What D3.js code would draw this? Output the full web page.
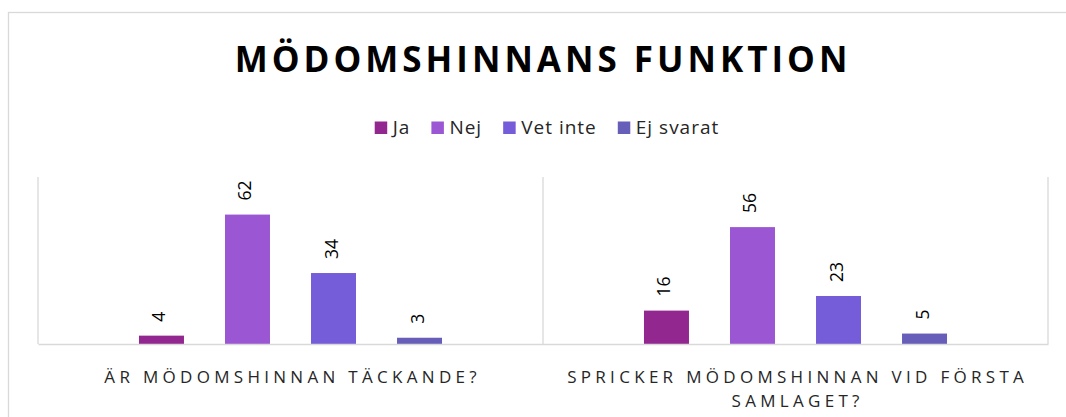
<!DOCTYPE html>
<html>
<head>
<meta charset="utf-8">
<script src="https://cdn.jsdelivr.net/npm/d3@7"></script>
<style>
  body { margin: 0; background: #fff; }
  svg { display: block; font-family: "Open Sans", "Noto Sans", sans-serif; }
</style>
</head>
<body>
<svg width="1066" height="417"></svg>
<script>
// data
var categories = ["ÄR MÖDOMSHINNAN TÄCKANDE?", "SPRICKER MÖDOMSHINNAN VID FÖRSTA SAMLAGET?"]
var seriesNames = ["Ja", "Nej", "Vet inte", "Ej svarat"]
var seriesColors = ["#92278F", "#9B57D3", "#755DD9", "#665EB8"]
var valuesJa = [4, 16]
var valuesNej = [62, 56]
var valuesVetInte = [34, 23]
var valuesEjSvarat = [3, 5]

var title = "MÖDOMSHINNANS FUNKTION"

var seriesValues = [valuesJa, valuesNej, valuesVetInte, valuesEjSvarat]
var rows = categories.map(function(c, i) {
  return {cat: c, vals: seriesNames.map(function(s, j) { return {name: s, value: seriesValues[j][i], idx: j} })}
})

var plot = {left: 38, right: 1048, top: 177, bottom: 344}
var svg = d3.select("svg")

// outer chart border
svg.append("rect")
  .attr("x", 8.5).attr("y", 12.5)
  .attr("width", 1070).attr("height", 430)
  .attr("fill", "none").attr("stroke", "#D9D9D9").attr("stroke-width", 1.3)

var titleSpacing = 4
svg.append("text")
  .attr("x", 541 + titleSpacing / 2).attr("y", 72)
  .attr("text-anchor", "middle")
  .attr("font-size", 35).attr("font-weight", "bold")
  .attr("letter-spacing", titleSpacing)
  .attr("fill", "#000")
  .text(title)

var x0 = d3.scaleBand()
  .domain(categories)
  .range([plot.left, plot.right])
  .padding(0)

var x1 = d3.scaleBand()
  .domain(seriesNames)
  .range([0, x0.bandwidth()])
  .paddingInner(0.477)
  .paddingOuter(1.174)

var y = d3.scaleLinear()
  .domain([0, 80])
  .range([plot.bottom, plot.top])

var color = d3.scaleOrdinal().domain(seriesNames).range(seriesColors)

// vertical category lines
var grid = svg.append("g")
grid.selectAll("line")
  .data(d3.range(categories.length + 1))
  .enter()
  .append("line")
  .attr("x1", function(i) { return i < categories.length ? x0(categories[i]) : x0.range()[1] })
  .attr("x2", function(i) { return i < categories.length ? x0(categories[i]) : x0.range()[1] })
  .attr("y1", plot.top).attr("y2", plot.bottom)
  .attr("stroke", "#D9D9D9").attr("stroke-width", 1.3)

var groups = svg.append("g")
  .selectAll("g")
  .data(rows)
  .enter()
  .append("g")
  .attr("transform", function(d) { return "translate(" + x0(d.cat) + ",0)" })

groups.selectAll("rect")
  .data(function(d) { return d.vals })
  .enter()
  .append("rect")
  .attr("x", function(d) { return x1(d.name) })
  .attr("y", function(d) { return y(d.value) })
  .attr("width", x1.bandwidth())
  .attr("height", function(d) { return y(0) - y(d.value) })
  .attr("fill", function(d) { return color(d.name) })

groups.selectAll("text")
  .data(function(d) { return d.vals })
  .enter()
  .append("text")
  .attr("transform", function(d) {
    return "translate(" + (x1(d.name) + x1.bandwidth() / 2 + 4) + "," + (y(d.value) - 14) + ") rotate(-90)"
  })
  .attr("font-size", 17.5)
  .attr("fill", "#000")
  .text(function(d) { return d.value })

// axis baseline
var xAxis = d3.axisBottom(x0).tickSize(0).tickFormat("")
svg.append("g")
  .attr("transform", "translate(0," + plot.bottom + ")")
  .call(xAxis)
  .call(function(g) { g.select(".domain").attr("stroke", "#D9D9D9").attr("stroke-width", 1.3) })

// category labels, wrapped
var catSpacing = 4.3
categories.forEach(function(c) {
  var t = svg.append("text")
    .attr("text-anchor", "middle")
    .attr("font-size", 17)
    .attr("letter-spacing", catSpacing)
    .attr("fill", "#262626")
  var cx = x0(c) + x0.bandwidth() / 2 + catSpacing / 2
  var words = c.split(" ")
  var line = []
  var lines = []
  var probe = t.append("tspan")
  words.forEach(function(w) {
    line.push(w)
    probe.text(line.join(" "))
    if (probe.node().getComputedTextLength() > 480 && line.length > 1) {
      line.pop()
      lines.push(line.join(" "))
      line = [w]
    }
  })
  lines.push(line.join(" "))
  probe.remove()
  lines.forEach(function(l, i) {
    t.append("tspan").attr("x", cx).attr("y", 383 + i * 24).text(l)
  })
})

// legend
var legend = svg.append("g")
var lx = 0
var items = legend.selectAll("g")
  .data(seriesNames)
  .enter()
  .append("g")
items.append("rect")
  .attr("width", 12.5).attr("height", 12.5)
  .attr("y", -12.5)
  .attr("fill", function(d) { return color(d) })
items.append("text")
  .attr("x", 18)
  .attr("y", 0)
  .attr("font-size", 19)
  .attr("letter-spacing", 1)
  .attr("fill", "#262626")
  .text(function(d) { return d })
items.each(function() {
  var g = d3.select(this)
  g.attr("transform", "translate(" + lx + ",0)")
  lx += 18 + g.select("text").node().getComputedTextLength() + 21
})
var legendWidth = lx - 21
legend.attr("transform", "translate(" + (547 - legendWidth / 2) + ",134)")
</script>
</body>
</html>
